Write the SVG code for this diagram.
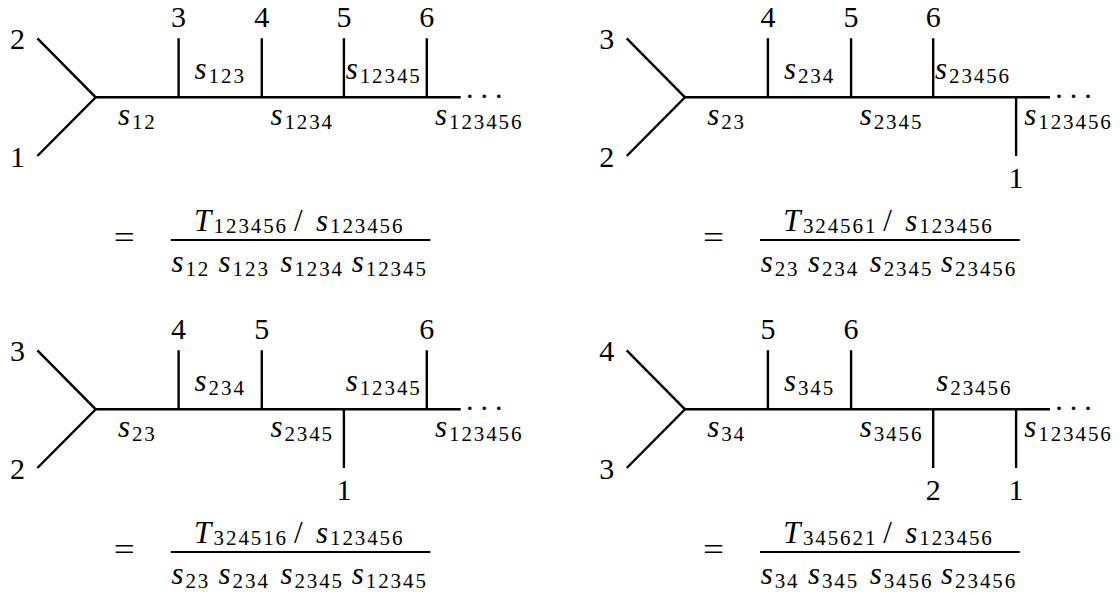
<svg xmlns="http://www.w3.org/2000/svg" width="1120" height="594" viewBox="0 0 1120 594" font-family="Liberation Serif">
<style>
.ln{stroke:#000;stroke-width:2.4;fill:none}
.fr{stroke:#000;stroke-width:2.2}
.tn{font-family:'Liberation Serif',serif;font-size:30px;text-anchor:middle;fill:#000}
.tm{font-family:'Liberation Serif',serif;font-size:31px;font-style:italic;fill:#000}
.tu{font-family:'Liberation Serif',serif;font-size:31px;fill:#000}
.ts{font-size:21px;font-style:normal;letter-spacing:1.9px}
.td{font-family:'Liberation Serif',serif;font-size:30px;letter-spacing:7px;fill:#000}
</style>
<rect width="1120" height="594" fill="#fff"/>

<g id="panel1">
  <g id="p1-connectors">
    <path class="ln" d="M37.4 38.3 L95.7 97.3 L37.4 156"/>
    <path class="ln" d="M95.7 97.3 H460.7"/>
    <path class="ln" d="M178.6 38.3 V97.3 M261.8 38.3 V97.3 M343.9 38.3 V97.3 M426.8 38.3 V97.3"/>
  </g>
  <g id="p1-leg2"><text class="tn" x="17.5" y="49.3">2</text></g>
  <g id="p1-leg1"><text class="tn" x="17.5" y="166.7">1</text></g>
  <g id="p1-leg3"><text class="tn" x="178.6" y="26.5">3</text></g>
  <g id="p1-leg4"><text class="tn" x="261.8" y="26.5">4</text></g>
  <g id="p1-leg5"><text class="tn" x="343.9" y="26.5">5</text></g>
  <g id="p1-leg6"><text class="tn" x="426.8" y="26.5">6</text></g>
  <g id="p1-labels">
    <text class="tm" x="194.6" y="79">s<tspan class="ts" x="208.6" dy="4">123</tspan></text>
    <text class="tm" x="345.7" y="79">s<tspan class="ts" x="359.7" dy="4">12345</tspan></text>
    <text class="tm" x="117.9" y="125">s<tspan class="ts" x="131.9" dy="4">12</tspan></text>
    <text class="tm" x="270.4" y="125">s<tspan class="ts" x="284.4" dy="4">1234</tspan></text>
    <text class="tm" x="435" y="125">s<tspan class="ts" x="449" dy="4">123456</tspan></text>
    <text class="td" x="466" y="98.4">...</text>
  </g>
  <g id="p1-formula">
    <text class="tu" x="113.8" y="248" textLength="21" lengthAdjust="spacingAndGlyphs">=</text>
    <line class="fr" x1="170.7" y1="240" x2="430.4" y2="240"/>
    <text class="tm" x="194" y="231">T<tspan class="ts" x="213.6" dy="2">123456</tspan></text>
    <text class="tu" x="294" y="231">/</text>
    <text class="tm" x="316" y="231">s<tspan class="ts" x="330" dy="2">123456</tspan></text>
    <text class="tm" x="171.4" y="272">s<tspan class="ts" x="185.4" dy="4">12</tspan></text>
    <text class="tm" x="218.6" y="272">s<tspan class="ts" x="232.6" dy="4">123</tspan></text>
    <text class="tm" x="280.4" y="272">s<tspan class="ts" x="294.4" dy="4">1234</tspan></text>
    <text class="tm" x="351.8" y="272">s<tspan class="ts" x="365.8" dy="4">12345</tspan></text>
  </g>
</g>

<g id="panel2" transform="translate(589.3,0)">
  <g id="p2-connectors">
    <path class="ln" d="M37.4 38.3 L95.7 97.3 L37.4 156"/>
    <path class="ln" d="M95.7 97.3 H460.7"/>
    <path class="ln" d="M178.6 38.3 V97.3 M261.8 38.3 V97.3 M343.9 38.3 V97.3 M426.8 97.3 V156"/>
  </g>
  <g id="p2-leg3"><text class="tn" x="17.5" y="49.3">3</text></g>
  <g id="p2-leg2"><text class="tn" x="17.5" y="166.7">2</text></g>
  <g id="p2-leg4"><text class="tn" x="178.6" y="26.5">4</text></g>
  <g id="p2-leg5"><text class="tn" x="261.8" y="26.5">5</text></g>
  <g id="p2-leg6"><text class="tn" x="343.9" y="26.5">6</text></g>
  <g id="p2-leg1"><text class="tn" x="426.8" y="188.3">1</text></g>
  <g id="p2-labels">
    <text class="tm" x="194.6" y="79">s<tspan class="ts" x="208.6" dy="4">234</tspan></text>
    <text class="tm" x="345.7" y="79">s<tspan class="ts" x="359.7" dy="4">23456</tspan></text>
    <text class="tm" x="117.9" y="125">s<tspan class="ts" x="131.9" dy="4">23</tspan></text>
    <text class="tm" x="270.4" y="125">s<tspan class="ts" x="284.4" dy="4">2345</tspan></text>
    <text class="tm" x="435" y="125">s<tspan class="ts" x="449" dy="4">123456</tspan></text>
    <text class="td" x="466" y="98.4">...</text>
  </g>
  <g id="p2-formula">
    <text class="tu" x="113.8" y="248" textLength="21" lengthAdjust="spacingAndGlyphs">=</text>
    <line class="fr" x1="170.7" y1="240" x2="430.4" y2="240"/>
    <text class="tm" x="194" y="231">T<tspan class="ts" x="213.6" dy="2">324561</tspan></text>
    <text class="tu" x="294" y="231">/</text>
    <text class="tm" x="316" y="231">s<tspan class="ts" x="330" dy="2">123456</tspan></text>
    <text class="tm" x="171.4" y="272">s<tspan class="ts" x="185.4" dy="4">23</tspan></text>
    <text class="tm" x="218.6" y="272">s<tspan class="ts" x="232.6" dy="4">234</tspan></text>
    <text class="tm" x="280.4" y="272">s<tspan class="ts" x="294.4" dy="4">2345</tspan></text>
    <text class="tm" x="351.8" y="272">s<tspan class="ts" x="365.8" dy="4">23456</tspan></text>
  </g>
</g>

<g id="panel3" transform="translate(0,312)">
  <g id="p3-connectors">
    <path class="ln" d="M37.4 38.3 L95.7 97.3 L37.4 156"/>
    <path class="ln" d="M95.7 97.3 H460.7"/>
    <path class="ln" d="M178.6 38.3 V97.3 M261.8 38.3 V97.3 M343.9 97.3 V156 M426.8 38.3 V97.3"/>
  </g>
  <g id="p3-leg3"><text class="tn" x="17.5" y="49.3">3</text></g>
  <g id="p3-leg2"><text class="tn" x="17.5" y="166.7">2</text></g>
  <g id="p3-leg4"><text class="tn" x="178.6" y="26.5">4</text></g>
  <g id="p3-leg5"><text class="tn" x="261.8" y="26.5">5</text></g>
  <g id="p3-leg6"><text class="tn" x="426.8" y="26.5">6</text></g>
  <g id="p3-leg1"><text class="tn" x="343.9" y="188.3">1</text></g>
  <g id="p3-labels">
    <text class="tm" x="194.6" y="79">s<tspan class="ts" x="208.6" dy="4">234</tspan></text>
    <text class="tm" x="345.7" y="79">s<tspan class="ts" x="359.7" dy="4">12345</tspan></text>
    <text class="tm" x="117.9" y="125">s<tspan class="ts" x="131.9" dy="4">23</tspan></text>
    <text class="tm" x="270.4" y="125">s<tspan class="ts" x="284.4" dy="4">2345</tspan></text>
    <text class="tm" x="435" y="125">s<tspan class="ts" x="449" dy="4">123456</tspan></text>
    <text class="td" x="466" y="98.4">...</text>
  </g>
  <g id="p3-formula">
    <text class="tu" x="113.8" y="248" textLength="21" lengthAdjust="spacingAndGlyphs">=</text>
    <line class="fr" x1="170.7" y1="240" x2="430.4" y2="240"/>
    <text class="tm" x="194" y="231">T<tspan class="ts" x="213.6" dy="2">324516</tspan></text>
    <text class="tu" x="294" y="231">/</text>
    <text class="tm" x="316" y="231">s<tspan class="ts" x="330" dy="2">123456</tspan></text>
    <text class="tm" x="171.4" y="272">s<tspan class="ts" x="185.4" dy="4">23</tspan></text>
    <text class="tm" x="218.6" y="272">s<tspan class="ts" x="232.6" dy="4">234</tspan></text>
    <text class="tm" x="280.4" y="272">s<tspan class="ts" x="294.4" dy="4">2345</tspan></text>
    <text class="tm" x="351.8" y="272">s<tspan class="ts" x="365.8" dy="4">12345</tspan></text>
  </g>
</g>

<g id="panel4" transform="translate(589.3,312)">
  <g id="p4-connectors">
    <path class="ln" d="M37.4 38.3 L95.7 97.3 L37.4 156"/>
    <path class="ln" d="M95.7 97.3 H460.7"/>
    <path class="ln" d="M178.6 38.3 V97.3 M261.8 38.3 V97.3 M343.9 97.3 V156 M426.8 97.3 V156"/>
  </g>
  <g id="p4-leg4"><text class="tn" x="17.5" y="49.3">4</text></g>
  <g id="p4-leg3"><text class="tn" x="17.5" y="166.7">3</text></g>
  <g id="p4-leg5"><text class="tn" x="178.6" y="26.5">5</text></g>
  <g id="p4-leg6"><text class="tn" x="261.8" y="26.5">6</text></g>
  <g id="p4-leg2"><text class="tn" x="343.9" y="188.3">2</text></g>
  <g id="p4-leg1"><text class="tn" x="426.8" y="188.3">1</text></g>
  <g id="p4-labels">
    <text class="tm" x="194.6" y="79">s<tspan class="ts" x="208.6" dy="4">345</tspan></text>
    <text class="tm" x="347" y="79">s<tspan class="ts" x="361" dy="4">23456</tspan></text>
    <text class="tm" x="117.9" y="125">s<tspan class="ts" x="131.9" dy="4">34</tspan></text>
    <text class="tm" x="270.4" y="125">s<tspan class="ts" x="284.4" dy="4">3456</tspan></text>
    <text class="tm" x="435" y="125">s<tspan class="ts" x="449" dy="4">123456</tspan></text>
    <text class="td" x="466" y="98.4">...</text>
  </g>
  <g id="p4-formula">
    <text class="tu" x="113.8" y="248" textLength="21" lengthAdjust="spacingAndGlyphs">=</text>
    <line class="fr" x1="170.7" y1="240" x2="430.4" y2="240"/>
    <text class="tm" x="194" y="231">T<tspan class="ts" x="213.6" dy="2">345621</tspan></text>
    <text class="tu" x="294" y="231">/</text>
    <text class="tm" x="316" y="231">s<tspan class="ts" x="330" dy="2">123456</tspan></text>
    <text class="tm" x="171.4" y="272">s<tspan class="ts" x="185.4" dy="4">34</tspan></text>
    <text class="tm" x="218.6" y="272">s<tspan class="ts" x="232.6" dy="4">345</tspan></text>
    <text class="tm" x="280.4" y="272">s<tspan class="ts" x="294.4" dy="4">3456</tspan></text>
    <text class="tm" x="351.8" y="272">s<tspan class="ts" x="365.8" dy="4">23456</tspan></text>
  </g>
</g>
</svg>
